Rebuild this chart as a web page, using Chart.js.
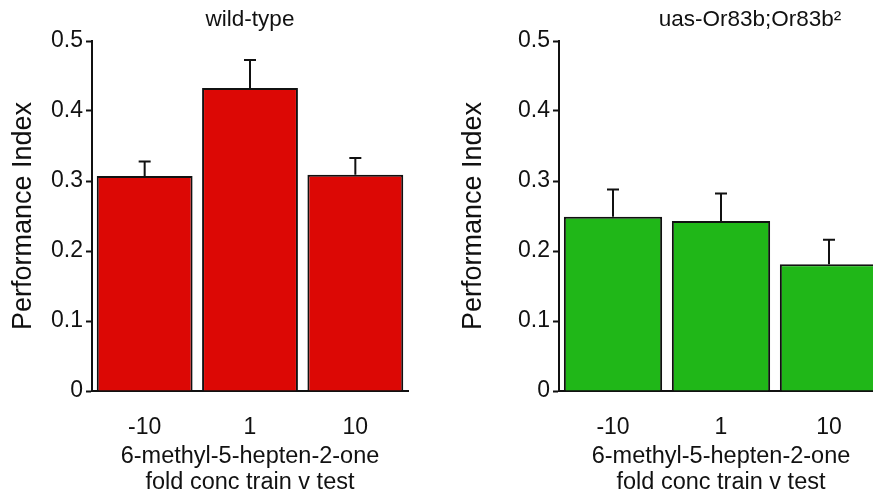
<!DOCTYPE html>
<html>
<head>
<meta charset="utf-8">
<script src="https://cdn.jsdelivr.net/npm/chart.js@4.4.1/dist/chart.umd.min.js"></script>
<style>
  html, body { margin: 0; padding: 0; background: #fff; overflow: hidden; width: 873px; height: 499px; }
  .panel { position: absolute; top: 0; height: 499px; }
  #wtPanel { left: 0; width: 430px; }
  #mutPanel { left: 450px; width: 440px; }
</style>
</head>
<body>
<div class="panel" id="wtPanel"><canvas id="wtChart"></canvas></div>
<div class="panel" id="mutPanel"><canvas id="mutChart"></canvas></div>
<script>
    // fold concentration train v test
    const categories = ['-10', '1', '10'];
    const yTicks = [0, 0.1, 0.2, 0.3, 0.4, 0.5];

    // wild-type
    const wtMeans = [0.307, 0.433, 0.309];
    const wtSem = [0.021, 0.040, 0.024];

    // uas-Or83b;Or83b2
    const mutMeans = [0.249, 0.243, 0.181];
    const mutSem = [0.039, 0.039, 0.035];

    const FONT = 'Arial, "Liberation Sans", sans-serif';

    // error bars drawn upward only, with a cap
    const errorBarPlugin = {
        id: 'errorBars',
        afterDatasetsDraw(chart, args, opts) {
            const ctx = chart.ctx;
            const meta = chart.getDatasetMeta(0);
            const yScale = chart.scales.y;
            const means = chart.data.datasets[0].data;
            ctx.save();
            ctx.strokeStyle = '#111';
            ctx.lineWidth = 2;
            meta.data.forEach((bar, i) => {
                const yTop = yScale.getPixelForValue(means[i] + opts.sem[i]);
                const yBase = yScale.getPixelForValue(means[i]);
                ctx.beginPath();
                ctx.moveTo(bar.x, yBase);
                ctx.lineTo(bar.x, yTop);
                ctx.moveTo(bar.x - 6, yTop);
                ctx.lineTo(bar.x + 6, yTop);
                ctx.stroke();
            });
            ctx.restore();
        }
    };

    const panelTitlePlugin = {
        id: 'panelTitle',
        afterDraw(chart, args, opts) {
            const ctx = chart.ctx;
            const area = chart.chartArea;
            ctx.save();
            ctx.fillStyle = '#111';
            ctx.font = '22.5px ' + FONT;
            ctx.textAlign = 'center';
            ctx.textBaseline = 'alphabetic';
            ctx.fillText(opts.text, (area.left + area.right) / 2 + (opts.dx || 0), opts.y);
            ctx.restore();
        }
    };

    function makeChart(canvasId, title, titleDx, means, sem, color, yAxisWidth, padRight) {
        const ctx = document.getElementById(canvasId).getContext('2d');
        return new Chart(ctx, {
            type: 'bar',
            data: {
                labels: categories,
                datasets: [{
                    data: means,
                    backgroundColor: color,
                    borderColor: '#111',
                    borderWidth: 2,
                    borderSkipped: 'bottom',
                    barPercentage: 0.91,
                    categoryPercentage: 1.0
                }]
            },
            options: {
                responsive: true,
                maintainAspectRatio: false,
                animation: false,
                layout: { padding: { top: 41, right: padRight, bottom: 0, left: 0 } },
                plugins: {
                    legend: { display: false },
                    tooltip: { enabled: false },
                    errorBars: { sem: sem },
                    panelTitle: { text: title, dx: titleDx, y: 26 }
                },
                scales: {
                    x: {
                        grid: { display: false, drawTicks: false },
                        border: { display: true, color: '#111', width: 2 },
                        ticks: {
                            color: '#111',
                            padding: 23,
                            font: { family: FONT, size: 23 }
                        },
                        title: {
                            display: true,
                            text: ['6-methyl-5-hepten-2-one', 'fold conc train v test'],
                            color: '#111',
                            font: { family: FONT, size: 23.5, lineHeight: '26px' },
                            padding: { top: 0, bottom: 3 }
                        },
                        afterFit: (scale) => { scale.height = 108; }
                    },
                    y: {
                        min: 0,
                        max: 0.5,
                        afterBuildTicks: (scale) => {
                            scale.ticks = yTicks.map(v => ({ value: v }));
                        },
                        grid: {
                            drawOnChartArea: false,
                            drawTicks: true,
                            tickLength: 6,
                            tickWidth: 2,
                            tickColor: '#111'
                        },
                        border: { display: true, color: '#111', width: 2 },
                        ticks: {
                            color: '#111',
                            padding: 3,
                            font: { family: FONT, size: 23 },
                            callback: (v) => String(v)
                        },
                        title: {
                            display: true,
                            text: 'Performance Index',
                            color: '#111',
                            font: { family: FONT, size: 27 },
                            padding: { top: 7, bottom: 0 }
                        },
                        afterFit: (scale) => { scale.width = yAxisWidth; }
                    }
                }
            },
            plugins: [errorBarPlugin, panelTitlePlugin]
        });
    }

    makeChart('wtChart', 'wild-type', 0, wtMeans, wtSem, '#dc0805', 92, 22);
    makeChart('mutChart', 'uas-Or83b;Or83b\u00b2', 29, mutMeans, mutSem, '#20b718', 109, 7);
</script>
</body>
</html>
